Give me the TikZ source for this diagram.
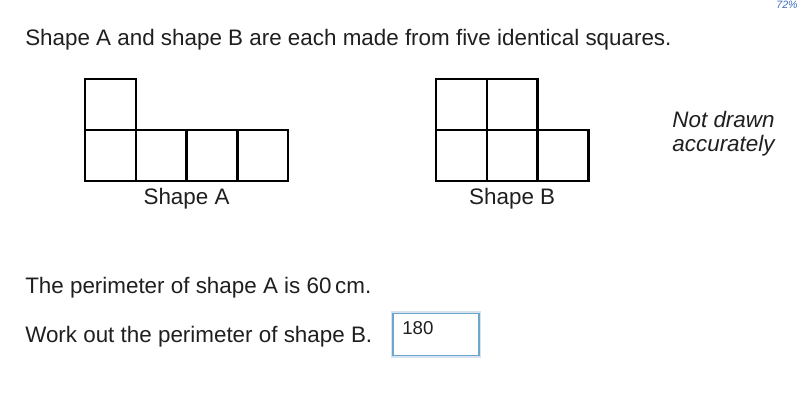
\documentclass[tikz,border=0pt]{standalone}
\usepackage{fontspec}
\setmainfont{Liberation Sans}
\usetikzlibrary{positioning,calc}
\definecolor{boxblue}{RGB}{110,165,205}
\definecolor{glow}{RGB}{215,228,240}
\definecolor{pctblue}{RGB}{60,110,190}
\tikzstyle{sq}=[draw=black,line width=1.9pt,minimum size=38pt,inner sep=0pt,outer sep=0pt]
\tikzstyle{txt}=[anchor=base west,inner sep=0pt,font=\fontsize{16.8}{20}\selectfont,text=black!88]
\newcommand{\cell}[3]{\node[sq] (#1) at (#2,#3) {};}

\begin{document}
\begin{tikzpicture}[x=0.75pt,y=-0.75pt]
    \useasboundingbox (0,0) rectangle (804,412);

    \node[txt] (title) at (25,45) {Shape A and shape B are each made from five identical squares.};
    \node[anchor=base,inner sep=0pt,font=\fontsize{8}{9}\selectfont\itshape,text=pctblue] (pct) at (787,8) {72\%};

    % shape A
    \cell{a0}{110.5}{104.5}
    \cell{a1}{110.5}{155.5}
    \cell{a2}{161.2}{155.5}
    \cell{a3}{211.9}{155.5}
    \cell{a4}{262.6}{155.5}
    \node[txt,anchor=base] (labA) at ($(a2.south east)+(0,24)$) {Shape A};

    % shape B
    \cell{b0}{461.5}{104.5}
    \cell{b1}{512.2}{104.5}
    \cell{b2}{461.5}{155.5}
    \cell{b3}{512.2}{155.5}
    \cell{b4}{562.9}{155.5}
    \node[txt,anchor=base] (labB) at ($(b3.south)+(0,24)$) {Shape B};

    \node[txt,anchor=base,font=\fontsize{16.8}{20}\selectfont\itshape] (nd1) at (723.5,127) {Not drawn};
    \node[txt,anchor=base,font=\fontsize{16.8}{20}\selectfont\itshape] (nd2) at (723.5,151) {accurately};

    \node[txt] (per) at (25,293) {The perimeter of shape A is 60\,cm.};
    \node[txt] (ask) at (25,342) {Work out the perimeter of shape B.};

    % answer box
    \node[draw=glow,line width=2.2pt,minimum width=66pt,minimum height=33.5pt,inner sep=0pt] (glowbox) at (436,334.5) {};
    \node[draw=boxblue,line width=0.9pt,fill=white,minimum width=64.5pt,minimum height=32pt,inner sep=0pt] (ansbox) at (436,334.5) {};
    \node[anchor=base west,inner sep=0pt,font=\fontsize{14}{16}\selectfont,text=black!88] (ans) at (402,334) {180};
\end{tikzpicture}
\end{document}
